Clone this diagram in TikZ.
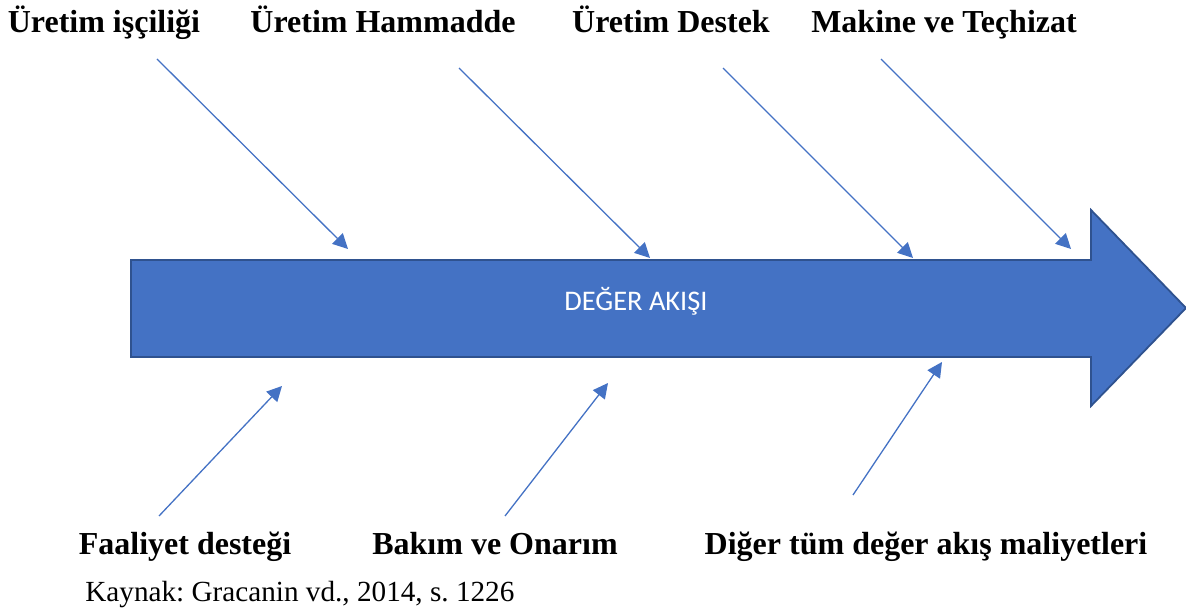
\documentclass[tikz,border=0pt]{standalone}
\usepackage{fontspec}
\setmainfont{Liberation Serif}
\newfontfamily\calibrifont{Carlito}
\usetikzlibrary{arrows.meta}
\definecolor{flowblue}{HTML}{4472C4}
\definecolor{flowedge}{HTML}{2F528F}
\frenchspacing
\begin{document}
\begin{tikzpicture}[x=0.5pt,y=-0.5pt,
  cost/.style={font=\fontsize{16}{19}\selectfont\bfseries, anchor=base, inner sep=0pt},
  feed/.style={draw=flowblue, line width=0.65pt, -{Triangle[length=7.5pt,width=7.5pt]}},
  note/.style={font=\fontsize{14.6}{17}\selectfont, anchor=base west, inner sep=0pt}]
\useasboundingbox (0,0) rectangle (1186,613);

% main value-stream arrow
\draw[fill=flowblue, draw=flowedge, line width=0.9pt, line join=miter]
  (131,260) -- (1091,260) -- (1091,210) -- (1186,308) -- (1091,406)
  -- (1091,357) -- (131,357) -- cycle;
\node[font=\calibrifont\fontsize{14.2}{17}\selectfont, text=white, inner sep=0pt]
  (flow) at (636,301) {DEĞER AKIŞI};

% cost categories above
\node[cost] (labour) at (104,33) {Üretim işçiliği};
\node[cost] (material) at (383,33) {Üretim Hammadde};
\node[cost] (support) at (671,33) {Üretim Destek};
\node[cost] (machine) at (944,33) {Makine ve Teçhizat};

% cost categories below
\node[cost] (activity) at (185,554) {Faaliyet desteği};
\node[cost] (repair) at (495,554) {Bakım ve Onarım};
\node[cost] (other) at (926,554) {Diğer tüm değer akış maliyetleri};

\node[note] (source) at (85,601) {Kaynak: Gracanin vd., 2014, s. 1226};

% feeder arrows
\coordinate (t1s) at (157,59);  \coordinate (t1e) at (348,249);
\coordinate (t2s) at (459,68);  \coordinate (t2e) at (650,258);
\coordinate (t3s) at (723,68);  \coordinate (t3e) at (913,258);
\coordinate (t4s) at (881,59);  \coordinate (t4e) at (1071,249);
\coordinate (b1s) at (159,516); \coordinate (b1e) at (282,386);
\coordinate (b2s) at (505,516); \coordinate (b2e) at (608,383);
\coordinate (b3s) at (853,495); \coordinate (b3e) at (942,362);

\draw[feed] (t1s) -- (t1e);
\draw[feed] (t2s) -- (t2e);
\draw[feed] (t3s) -- (t3e);
\draw[feed] (t4s) -- (t4e);
\draw[feed] (b1s) -- (b1e);
\draw[feed] (b2s) -- (b2e);
\draw[feed] (b3s) -- (b3e);
\end{tikzpicture}
\end{document}
